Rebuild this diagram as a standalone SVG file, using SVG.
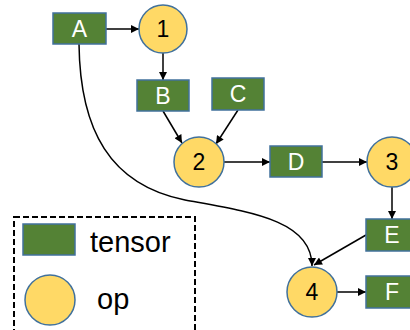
<svg xmlns="http://www.w3.org/2000/svg" width="410" height="330" viewBox="0 0 410 330">
<style>
.t{fill:#548235;stroke:#41719C;stroke-width:1.5}
.o{fill:#FFD966;stroke:#41719C;stroke-width:1.5}
.lt{font-family:"Liberation Sans",Arial,sans-serif;font-size:23px;fill:#fff;text-anchor:middle}
.lo{font-family:"Liberation Sans",Arial,sans-serif;font-size:23px;fill:#000;text-anchor:middle}
.lg{font-family:"Liberation Sans",Arial,sans-serif;font-size:29px;fill:#000}
.e{fill:none;stroke:#000;stroke-width:1.5;marker-end:url(#ah)}
</style>
<defs>
<marker id="ah" viewBox="0 0 10 10" refX="10" refY="5" markerWidth="10" markerHeight="8" markerUnits="userSpaceOnUse" orient="auto">
<path d="M0,0 L10,5 L0,10 z" fill="#000"/>
</marker>
</defs>
<rect width="410" height="330" fill="#fff"/>
<g id="connectors">
<path class="e" d="M106,29 L139,29"/>
<path class="e" d="M163,53 L163,80"/>
<path class="e" d="M163,111 L182,143"/>
<path class="e" d="M238,110 L216,144"/>
<path class="e" d="M224,162 L270,162"/>
<path class="e" d="M322,162 L367,162"/>
<path class="e" d="M392,187 L392,219"/>
<path class="e" d="M366,235 L314,265"/>
<path class="e" d="M79,44 C80,130 110,185 185,200 C250,212 312,220 312,266"/>
<path class="e" d="M336,292 L366,292"/>
</g>
<g id="A"><rect class="t" x="53" y="13" width="53" height="31"/><text class="lt" x="79.5" y="37">A</text></g>
<g id="op1"><circle class="o" cx="163" cy="29" r="24"/><text class="lo" x="163" y="37">1</text></g>
<g id="B"><rect class="t" x="137" y="80" width="52" height="31"/><text class="lt" x="163" y="104">B</text></g>
<g id="C"><rect class="t" x="212" y="78" width="52" height="32"/><text class="lt" x="238" y="102">C</text></g>
<g id="op2"><circle class="o" cx="199" cy="162" r="25"/><text class="lo" x="199" y="170">2</text></g>
<g id="D"><rect class="t" x="270" y="146" width="52" height="31"/><text class="lt" x="296" y="170">D</text></g>
<g id="op3"><circle class="o" cx="392" cy="162" r="25"/><text class="lo" x="392" y="170">3</text></g>
<g id="E"><rect class="t" x="366" y="219" width="52" height="32"/><text class="lt" x="392" y="243">E</text></g>
<g id="op4"><circle class="o" cx="312" cy="292" r="25"/><text class="lo" x="312" y="300">4</text></g>
<g id="F"><rect class="t" x="366" y="276" width="52" height="32"/><text class="lt" x="392" y="300">F</text></g>
<g id="legend">
<rect x="14" y="217" width="181" height="130" fill="none" stroke="#000" stroke-width="2" stroke-dasharray="6,3"/>
<rect class="t" x="23" y="224" width="52" height="31"/>
<text class="lg" x="90" y="252">tensor</text>
<circle class="o" cx="50" cy="300" r="25"/>
<text class="lg" x="97" y="309">op</text>
</g>
</svg>
